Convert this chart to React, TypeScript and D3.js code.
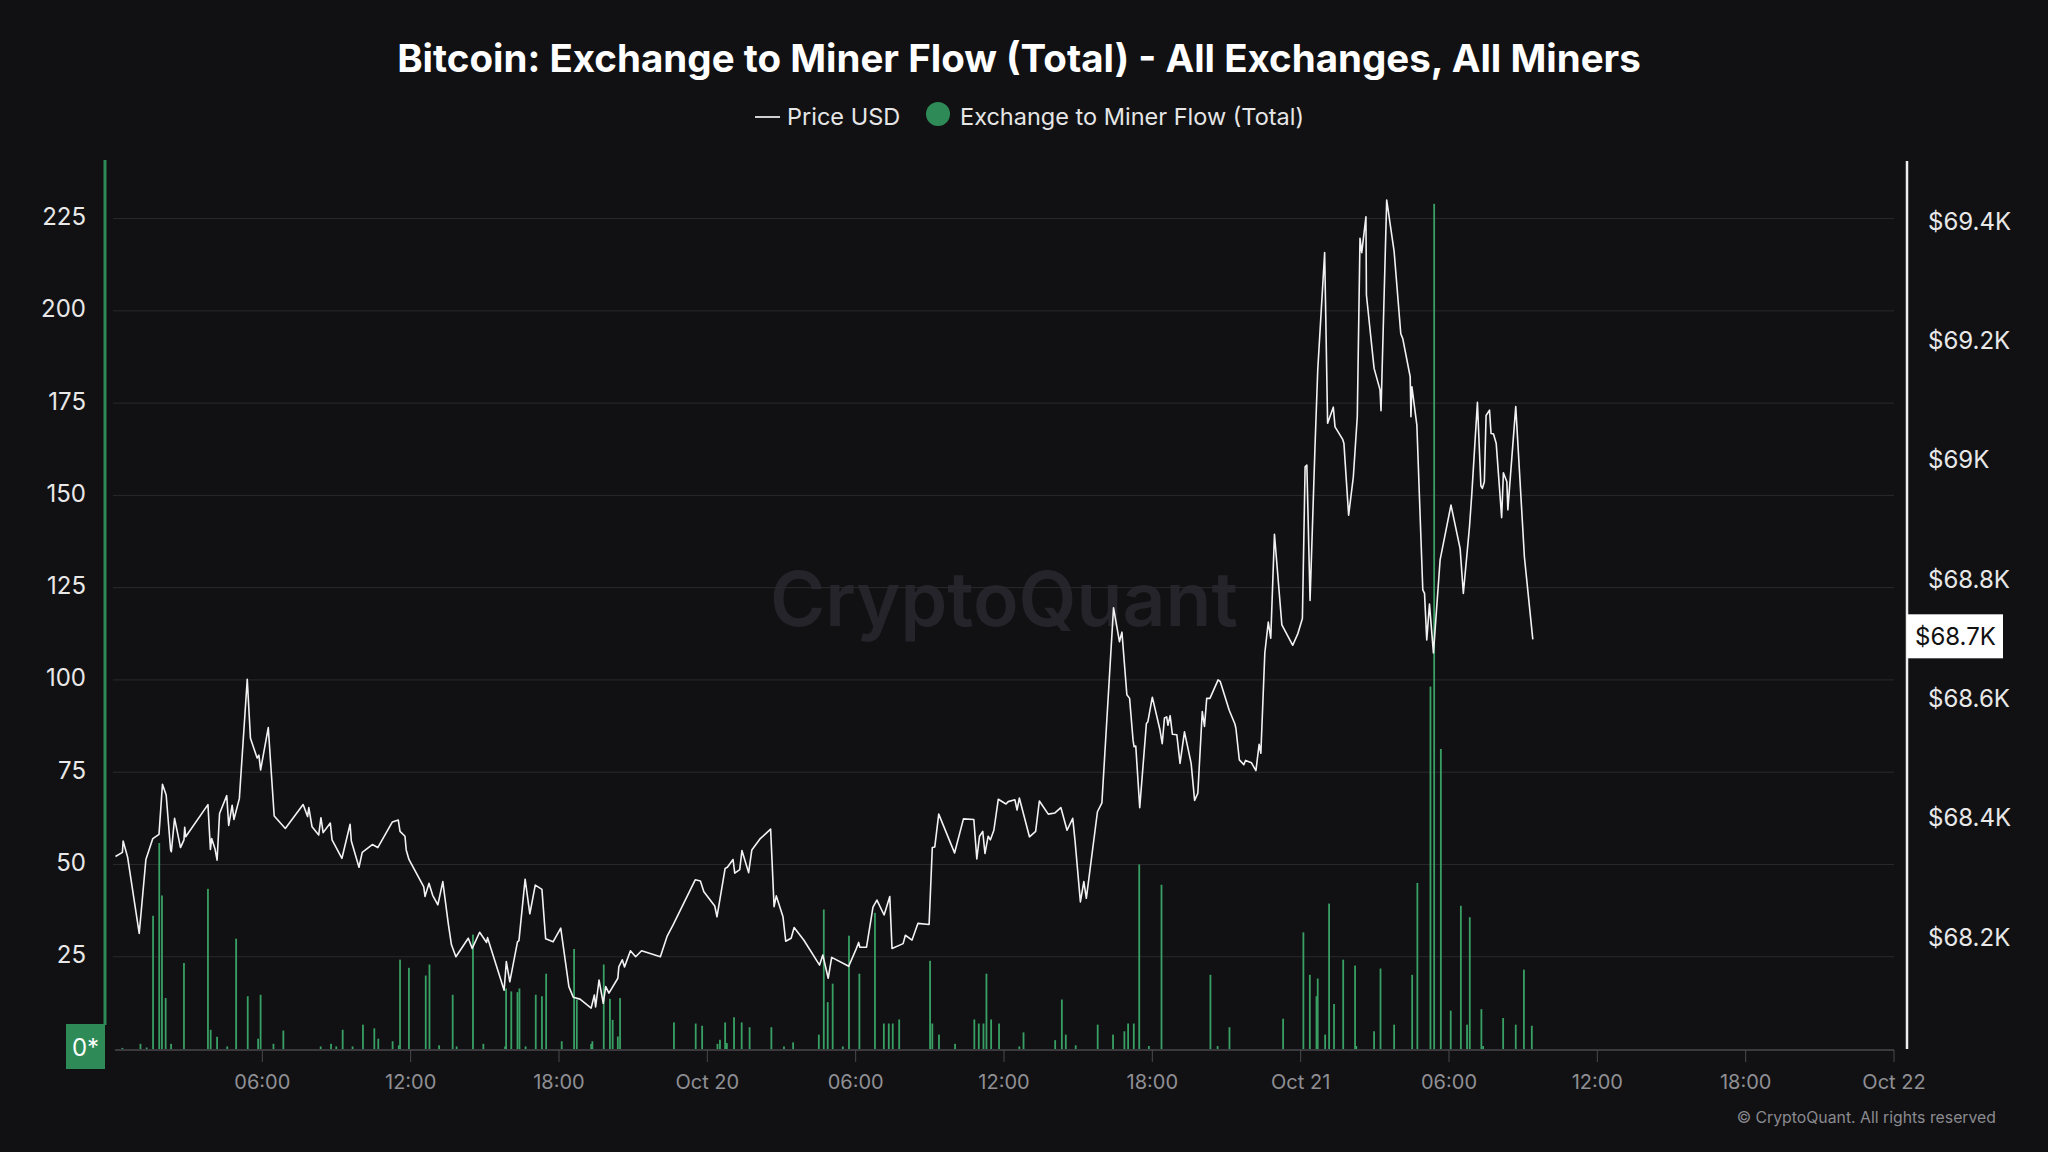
import React from "react";
import * as d3 from "d3";

const TITLE = "Bitcoin: Exchange to Miner Flow (Total) - All Exchanges, All Miners";
const LEGEND_PRICE = "Price USD";
const LEGEND_FLOW = "Exchange to Miner Flow (Total)";
const WATERMARK = "CryptoQuant";
const COPYRIGHT = "© CryptoQuant. All rights reserved";
const START = new Date(2024, 9, 19, 0, 0);
const END = new Date(2024, 9, 22, 0, 0);

// hours since Oct 19 00:00
const priceHours = [
  0.06, 0.34, 0.37, 0.55, 1.02, 1.29, 1.57, 1.82, 1.96, 2.11, 2.29, 2.32, 2.45, 2.69, 2.83, 2.86, 2.9, 3.8, 3.9, 3.95,
  4.09, 4.17, 4.27, 4.56, 4.64, 4.78, 4.85, 5.07, 5.39, 5.52, 5.79, 5.86, 5.93, 6.24, 6.48, 6.93, 7.65, 7.83, 7.88, 8.01,
  8.28, 8.37, 8.46, 8.75, 8.82, 9.22, 9.55, 9.6, 9.91, 10.04, 10.45, 10.67, 11.26, 11.5, 11.57, 11.77, 11.82, 11.93, 12.53, 12.58,
  12.74, 12.89, 13.1, 13.3, 13.52, 13.65, 13.83, 14.33, 14.49, 14.79, 15.07, 15.11, 15.78, 15.87, 16.01, 16.32, 16.38, 16.63, 16.82, 17.04,
  17.31, 17.46, 17.76, 18.07, 18.4, 18.58, 18.85, 19.3, 19.43, 19.48, 19.62, 19.79, 19.89, 20.02, 20.38, 20.42, 20.56, 20.65, 20.89, 21.1,
  21.34, 22.1, 22.37, 22.61, 23.51, 23.72, 23.86, 24.3, 24.39, 24.72, 24.81, 25.04, 25.11, 25.31, 25.4, 25.67, 25.8, 26.12, 26.56, 26.7,
  26.79, 27.06, 27.17, 27.39, 27.51, 27.9, 28.54, 28.67, 28.89, 29.03, 29.72, 30.03, 30.12, 30.17, 30.44, 30.7, 30.86, 31.15, 31.38, 31.47,
  31.92, 32.01, 32.28, 32.52, 32.97, 33.1, 33.2, 33.36, 34.0, 34.36, 34.78, 34.9, 35.01, 35.14, 35.23, 35.36, 35.45, 35.59, 35.77, 36.08,
  36.17, 36.44, 36.53, 36.62, 37.03, 37.28, 37.43, 37.79, 38.06, 38.3, 38.55, 38.78, 38.87, 39.09, 39.23, 39.33, 39.78, 39.96, 40.43, 40.67,
  40.77, 40.97, 41.08, 41.22, 41.26, 41.33, 41.49, 41.76, 41.82, 42.0, 42.31, 42.4, 42.49, 42.58, 42.63, 42.72, 42.81, 42.99, 43.12, 43.3,
  43.57, 43.71, 43.84, 44.02, 44.11, 44.2, 44.33, 44.66, 44.75, 45.11, 45.34, 45.38, 45.52, 45.7, 45.77, 46.01, 46.19, 46.32, 46.39, 46.55,
  46.69, 46.79, 46.94, 47.24, 47.68, 47.89, 48.07, 48.18, 48.25, 48.38, 48.58, 48.69, 48.97, 49.09, 49.32, 49.39, 49.7, 49.75, 49.94, 50.13,
  50.29, 50.4, 50.47, 50.64, 50.66, 50.97, 51.21, 51.25, 51.48, 51.78, 52.05, 52.13, 52.43, 52.46, 52.5, 52.7, 52.94, 53.01, 53.1, 53.21,
  53.37, 53.64, 54.08, 54.45, 54.58, 54.83, 54.92, 55.15, 55.29, 55.35, 55.43, 55.5, 55.64, 55.7, 55.8, 55.91, 56.13, 56.2, 56.34, 56.38,
  56.7, 57.05, 57.39,
];
const priceValues = [
  68335, 68342, 68361, 68334, 68206, 68330, 68365, 68372, 68456, 68438, 68346, 68343, 68399, 68350, 68363, 68384, 68368, 68422, 68347, 68365,
  68347, 68329, 68407, 68437, 68387, 68421, 68397, 68432, 68632, 68533, 68500, 68505, 68480, 68551, 68403, 68382, 68422, 68402, 68417, 68385,
  68371, 68400, 68375, 68391, 68363, 68332, 68389, 68361, 68317, 68342, 68355, 68350, 68393, 68396, 68377, 68369, 68346, 68330, 68284, 68268,
  68290, 68270, 68254, 68293, 68223, 68187, 68167, 68198, 68181, 68208, 68191, 68199, 68111, 68159, 68125, 68192, 68194, 68297, 68239, 68287,
  68280, 68197, 68192, 68215, 68117, 68099, 68096, 68081, 68103, 68083, 68128, 68089, 68117, 68106, 68131, 68150, 68162, 68150, 68177, 68167,
  68177, 68167, 68201, 68220, 68296, 68294, 68276, 68252, 68234, 68315, 68317, 68330, 68307, 68313, 68345, 68308, 68346, 68364, 68381, 68251,
  68269, 68234, 68193, 68198, 68216, 68195, 68153, 68170, 68131, 68166, 68151, 68181, 68191, 68183, 68183, 68250, 68262, 68237, 68268, 68181,
  68189, 68203, 68195, 68223, 68221, 68350, 68351, 68406, 68341, 68398, 68397, 68331, 68369, 68377, 68340, 68369, 68363, 68379, 68431, 68423,
  68427, 68430, 68413, 68433, 68368, 68377, 68428, 68406, 68408, 68417, 68379, 68399, 68363, 68259, 68293, 68265, 68410, 68425, 68752, 68695,
  68711, 68606, 68600, 68530, 68519, 68520, 68417, 68558, 68561, 68602, 68547, 68524, 68567, 68569, 68555, 68571, 68540, 68539, 68491, 68544,
  68491, 68429, 68441, 68578, 68553, 68600, 68600, 68631, 68628, 68580, 68557, 68550, 68497, 68489, 68496, 68492, 68479, 68523, 68508, 68676,
  68728, 68701, 68875, 68723, 68689, 68709, 68734, 68988, 68991, 68764, 69022, 69150, 69347, 69061, 69088, 69055, 69034, 69027, 68907, 68971,
  69072, 69371, 69347, 69407, 69276, 69153, 69117, 69082, 69435, 69349, 69211, 69203, 69139, 69072, 69122, 69058, 68782, 68776, 68698, 68758,
  68676, 68832, 68924, 68851, 68776, 68888, 68941, 69096, 68956, 68952, 68963, 69074, 69083, 69044, 69043, 69027, 68903, 68978, 68963, 68916,
  69089, 68837, 68699,
];

const flowHours = [
  0.34, 1.07, 1.32, 1.58, 1.83, 1.94, 2.09, 2.31, 2.83, 3.8, 3.91, 4.17, 4.58, 4.94, 5.41, 5.83, 5.93, 6.45, 6.85, 8.36,
  8.78, 8.99, 9.25, 9.65, 10.07, 10.53, 10.69, 11.27, 11.52, 11.57, 11.93, 12.61, 12.76, 13.15, 13.7, 13.86, 14.52, 14.94, 15.82, 15.86,
  16.07, 16.32, 16.4, 16.65, 17.06, 17.31, 17.48, 18.11, 18.61, 18.72, 19.3, 19.35, 19.81, 20.06, 20.17, 20.38, 20.47, 22.65, 23.53, 23.79,
  24.41, 24.51, 24.72, 24.79, 25.08, 25.39, 25.71, 26.59, 27.1, 27.47, 28.51, 28.71, 28.87, 29.07, 29.48, 29.73, 30.15, 30.78, 31.14, 31.34,
  31.5, 31.76, 33.01, 33.1, 33.37, 34.02, 34.8, 34.98, 35.17, 35.29, 35.48, 35.8, 36.62, 36.79, 38.07, 38.34, 38.5, 38.9, 39.79, 40.41,
  40.87, 41.02, 41.25, 41.47, 41.86, 42.37, 44.35, 44.64, 45.12, 47.29, 48.11, 48.37, 48.64, 48.69, 48.99, 49.15, 49.35, 49.72, 50.2, 50.25,
  50.97, 51.23, 51.78, 52.51, 52.72, 53.25, 53.4, 53.67, 54.07, 54.48, 54.73, 54.84, 55.31, 55.38, 56.19, 56.7, 57.03, 57.35,
];
const flowValues = [
  0.3, 1.4, 0.4, 36.1, 55.8, 41.6, 13.8, 1.4, 23.3, 43.4, 5.2, 3.3, 0.7, 29.9, 14.3, 2.8, 14.7, 1.4, 5.0, 0.7,
  1.4, 0.7, 5.2, 0.7, 6.6, 5.6, 2.8, 2.1, 1.0, 24.2, 22.0, 19.9, 22.9, 1.0, 14.7, 0.7, 31.0, 1.4, 0.7, 16.4,
  15.6, 15.4, 16.4, 0.7, 14.7, 14.3, 20.4, 2.1, 27.1, 13.4, 1.4, 2.1, 22.9, 13.6, 7.9, 3.4, 13.8, 7.2, 6.9, 6.3,
  1.4, 2.5, 7.2, 1.6, 8.6, 7.2, 5.9, 5.9, 0.7, 1.8, 3.9, 37.8, 12.7, 17.7, 0.7, 30.7, 20.4, 36.9, 6.9, 6.9,
  6.9, 8.0, 23.9, 6.9, 3.9, 1.4, 8.0, 6.9, 6.9, 20.4, 8.0, 6.9, 0.7, 4.5, 2.4, 13.4, 3.9, 1.0, 6.6, 3.9,
  4.8, 6.9, 6.9, 50.0, 0.8, 44.5, 20.1, 0.8, 5.9, 8.2, 31.6, 20.1, 14.3, 19.1, 3.9, 39.4, 12.2, 24.2, 22.6, 0.8,
  4.8, 21.8, 6.6, 20.1, 45.0, 98.2, 229.0, 81.3, 10.4, 38.8, 6.6, 35.7, 10.8, 0.8, 8.4, 6.6, 21.5, 6.3,
];

const leftTicks = [25, 50, 75, 100, 125, 150, 175, 200, 225];
const rightTicks = [68200, 68400, 68600, 68800, 69000, 69200, 69400];
const xTickHours = [6, 12, 18, 24, 30, 36, 42, 48, 54, 60, 66, 72];
const xTickLabels = ["06:00", "12:00", "18:00", "Oct 20", "06:00", "12:00", "18:00", "Oct 21", "06:00", "12:00", "18:00", "Oct 22"];
const LAST_PRICE_LABEL = "$68.7K";

const W = 2048;
const H = 1152;
const FONT = "Inter, 'Noto Sans', sans-serif";
const BG = "#111113";
const GREEN = "#2e8b57";
const BAR_GREEN = "#38a064";

const atHour = (h: number) => new Date(START.getTime() + h * 3600 * 1000);

export default function App() {
  const x = d3.scaleTime().domain([START, END]).range([114, 1894]);
  const yL = d3.scaleLinear().domain([0, 240.6]).range([1049, 161]);
  const yR = d3.scaleLinear().domain([68012.4, 69500.6]).range([1049, 161]);

  const pricePts = priceHours.map((h, i) => [h, priceValues[i]] as [number, number]);
  const line = d3
    .line<[number, number]>()
    .x((d) => x(atHour(d[0])))
    .y((d) => yR(d[1]));

  const fmtR = (v: number) => `$${+(v / 1000).toFixed(1)}K`;
  const lastPrice = priceValues[priceValues.length - 1];
  const lastY = yR(lastPrice);

  return (
    <svg
      width={W}
      height={H}
      viewBox={`0 0 ${W} ${H}`}
      style={{ position: "absolute", left: 0, top: 0, display: "block", background: BG }}
      fontFamily={FONT}
    >
      <rect x={0} y={0} width={W} height={H} fill={BG} />

      {/* Title */}
      <text x={1019} y={72} textAnchor="middle" fill="#ffffff" fontSize={38.5} fontWeight={700}>
        {TITLE}
      </text>

      {/* Legend */}
      <line x1={755} x2={780} y1={117} y2={117} stroke="#cfcfcf" strokeWidth={2} />
      <text x={787} y={116} dominantBaseline="central" fill="#e6e6e6" fontSize={23.5}>
        {LEGEND_PRICE}
      </text>
      <circle cx={938} cy={114} r={12} fill={GREEN} />
      <text x={960} y={116} dominantBaseline="central" fill="#e6e6e6" fontSize={23.5}>
        {LEGEND_FLOW}
      </text>

      {/* Watermark */}
      <text x={1004} y={598} textAnchor="middle" dominantBaseline="central" fill="#24242a" fontSize={75} fontWeight={600}>
        {WATERMARK}
      </text>

      {/* Grid */}
      {leftTicks.map((t) => (
        <line key={"g" + t} x1={113} x2={1894} y1={yL(t)} y2={yL(t)} stroke="#2a2a2e" strokeWidth={1} />
      ))}

      {/* Bars */}
      {flowHours.map((h, i) => (
        <rect
          key={"b" + i}
          x={x(atHour(h)) - 0.9}
          width={1.8}
          y={yL(flowValues[i])}
          height={yL(0) - yL(flowValues[i])}
          fill={BAR_GREEN}
        />
      ))}

      {/* Price line */}
      <path d={line(pricePts) || ""} fill="none" stroke="#f2f2f2" strokeWidth={1.6} strokeLinejoin="round" />

      {/* Bottom axis */}
      <line x1={115} x2={1894} y1={1050} y2={1050} stroke="#3a3a3e" strokeWidth={2} />
      {xTickHours.map((h, i) => (
        <g key={"xt" + i}>
          <line x1={x(atHour(h))} x2={x(atHour(h))} y1={1050} y2={1062} stroke="#4a4a4e" strokeWidth={1} />
          <text x={x(atHour(h))} y={1082} textAnchor="middle" dominantBaseline="central" fill="#8f8f94" fontSize={20}>
            {xTickLabels[i]}
          </text>
        </g>
      ))}

      {/* Left axis */}
      <line x1={105} x2={105} y1={160} y2={1025} stroke={GREEN} strokeWidth={3} />
      {leftTicks.map((t) => (
        <text key={"lt" + t} x={86} y={yL(t) - 2} textAnchor="end" dominantBaseline="central" fill="#e8e8e8" fontSize={24}>
          {t}
        </text>
      ))}
      <rect x={66} y={1024} width={39} height={45} fill={GREEN} />
      <text x={85.5} y={1047} textAnchor="middle" dominantBaseline="central" fill="#ffffff" fontSize={24}>
        0*
      </text>

      {/* Right axis */}
      <line x1={1907} x2={1907} y1={161} y2={1049} stroke="#ededed" strokeWidth={2.5} />
      {rightTicks.map((t) => (
        <text key={"rt" + t} x={1928} y={yR(t)} dominantBaseline="central" fill="#e8e8e8" fontSize={24}>
          {fmtR(t)}
        </text>
      ))}
      <rect x={1907} y={lastY - 25} width={96} height={44} fill="#ffffff" />
      <text x={1915} y={lastY - 3} dominantBaseline="central" fill="#111111" fontSize={24}>
        {LAST_PRICE_LABEL}
      </text>

      {/* Copyright */}
      <text x={1996} y={1117} textAnchor="end" dominantBaseline="central" fill="#8a8a8f" fontSize={15.8}>
        {COPYRIGHT}
      </text>
    </svg>
  );
}
